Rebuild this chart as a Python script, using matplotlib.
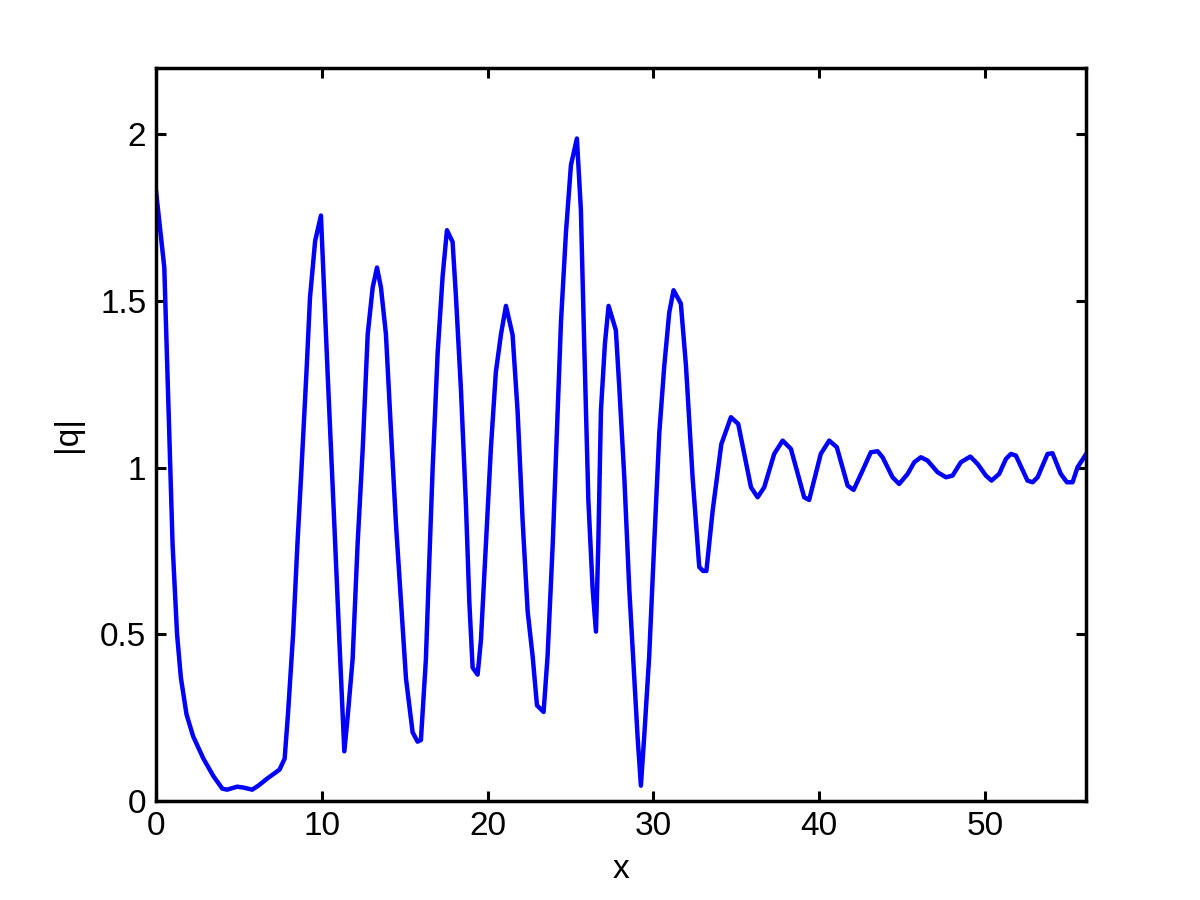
import matplotlib
matplotlib.use("Agg")
import matplotlib.pyplot as plt

# |q| values
x_vals = [0.0, 0.5, 0.8, 1.0, 1.27, 1.5, 1.84, 2.24, 2.86, 3.47, 4.0, 4.29, 4.9, 5.3, 5.8,
          6.2, 6.7, 7.45, 7.76, 7.96, 8.27, 8.53, 8.78, 9.08, 9.29, 9.6, 9.95,
          10.35, 10.76, 11.06, 11.36, 11.56, 11.86, 12.16, 12.47, 12.77, 13.07, 13.33,
          13.57, 13.87, 14.17, 14.48, 14.78, 15.08, 15.48, 15.78, 15.98, 16.28, 16.48,
          16.69, 16.99, 17.29, 17.55, 17.89, 18.09, 18.4, 18.7, 18.9, 19.1, 19.4, 19.6,
          19.9, 20.2, 20.5, 20.81, 21.11, 21.51, 21.81, 22.12, 22.42, 22.72, 22.98,
          23.38, 23.62, 23.93, 24.13, 24.43, 24.73, 25.03, 25.39, 25.63, 25.83, 26.08,
          26.34, 26.54, 26.68, 26.84, 27.08, 27.3, 27.74, 27.95, 28.25, 28.55, 28.85,
          29.05, 29.25, 29.45, 29.75, 30.05, 30.36, 30.66, 30.96, 31.22, 31.66, 31.97,
          32.37, 32.77, 33.0, 33.2, 33.58, 34.1, 34.68, 35.12, 35.89, 36.29, 36.69,
          37.29, 37.8, 38.3, 39.1, 39.4, 40.1, 40.61, 41.07, 41.72, 42.08, 42.62,
          43.12, 43.53, 43.83, 44.43, 44.83, 45.34, 45.74, 46.14, 46.54, 47.15, 47.65,
          48.05, 48.55, 49.12, 49.56, 50.06, 50.4, 50.86, 51.27, 51.57, 51.87, 52.57,
          52.88, 53.18, 53.78, 54.08, 54.58, 54.95, 55.29, 55.59, 56.1]
q_vals = [1.83, 1.60, 1.106, 0.77, 0.50, 0.37, 0.26, 0.194, 0.127, 0.074, 0.037, 0.034,
          0.043, 0.040, 0.034, 0.047, 0.067, 0.094, 0.127, 0.26, 0.50, 0.77, 1.0, 1.29,
          1.51, 1.68, 1.756, 1.286, 0.827, 0.482, 0.149, 0.252, 0.425, 0.77, 1.057,
          1.40, 1.54, 1.60, 1.54, 1.40, 1.114, 0.827, 0.597, 0.367, 0.206, 0.178, 0.183,
          0.424, 0.712, 1.0, 1.344, 1.574, 1.712, 1.677, 1.516, 1.229, 0.884, 0.597,
          0.40, 0.379, 0.482, 0.77, 1.057, 1.286, 1.40, 1.485, 1.398, 1.171, 0.836,
          0.568, 0.434, 0.287, 0.267, 0.434, 0.769, 1.037, 1.438, 1.706, 1.907, 1.987,
          1.773, 1.372, 0.903, 0.635, 0.508, 0.769, 1.171, 1.372, 1.485, 1.412, 1.238,
          0.970, 0.635, 0.367, 0.193, 0.046, 0.193, 0.434, 0.769, 1.104, 1.305, 1.465,
          1.532, 1.492, 1.305, 0.970, 0.702, 0.69, 0.69, 0.871, 1.07, 1.151, 1.131,
          0.941, 0.911, 0.941, 1.041, 1.081, 1.056, 0.911, 0.903, 1.041, 1.081, 1.061,
          0.946, 0.933, 0.991, 1.046, 1.049, 1.031, 0.971, 0.951, 0.981, 1.016, 1.031,
          1.021, 0.986, 0.971, 0.976, 1.016, 1.033, 1.011, 0.976, 0.961, 0.981, 1.026,
          1.041, 1.036, 0.961, 0.956, 0.971, 1.041, 1.043, 0.981, 0.956, 0.956, 1.001,
          1.04]

x_ticks = [0, 10, 20, 30, 40, 50]
y_ticks = [0, 0.5, 1, 1.5, 2]
y_tick_labels = ["0", "0.5", "1", "1.5", "2"]

plt.rcParams['font.family'] = ['Liberation Sans', 'DejaVu Sans']

fig = plt.figure(figsize=(12, 9), dpi=100)
ax = fig.add_axes([0.13, 0.11, 0.775, 0.815])
ax.plot(x_vals, q_vals, color=(0, 0, 1), linewidth=3.2)
ax.set_xlim(0, 56.1)
ax.set_ylim(0, 2.2)
ax.set_xticks(x_ticks)
ax.set_xticklabels([str(t) for t in x_ticks])
ax.set_yticks(y_ticks)
ax.set_yticklabels(y_tick_labels)
ax.tick_params(direction='in', length=7, width=2.2, top=True, right=True,
               labelsize=24, pad=7, colors='black')
for s in ax.spines.values():
    s.set_linewidth(2.5)
ax.set_xlabel('x', fontsize=24, labelpad=9)
ax.set_ylabel('|q|', fontsize=24, labelpad=12)
fig.savefig('out.png', dpi=100)
